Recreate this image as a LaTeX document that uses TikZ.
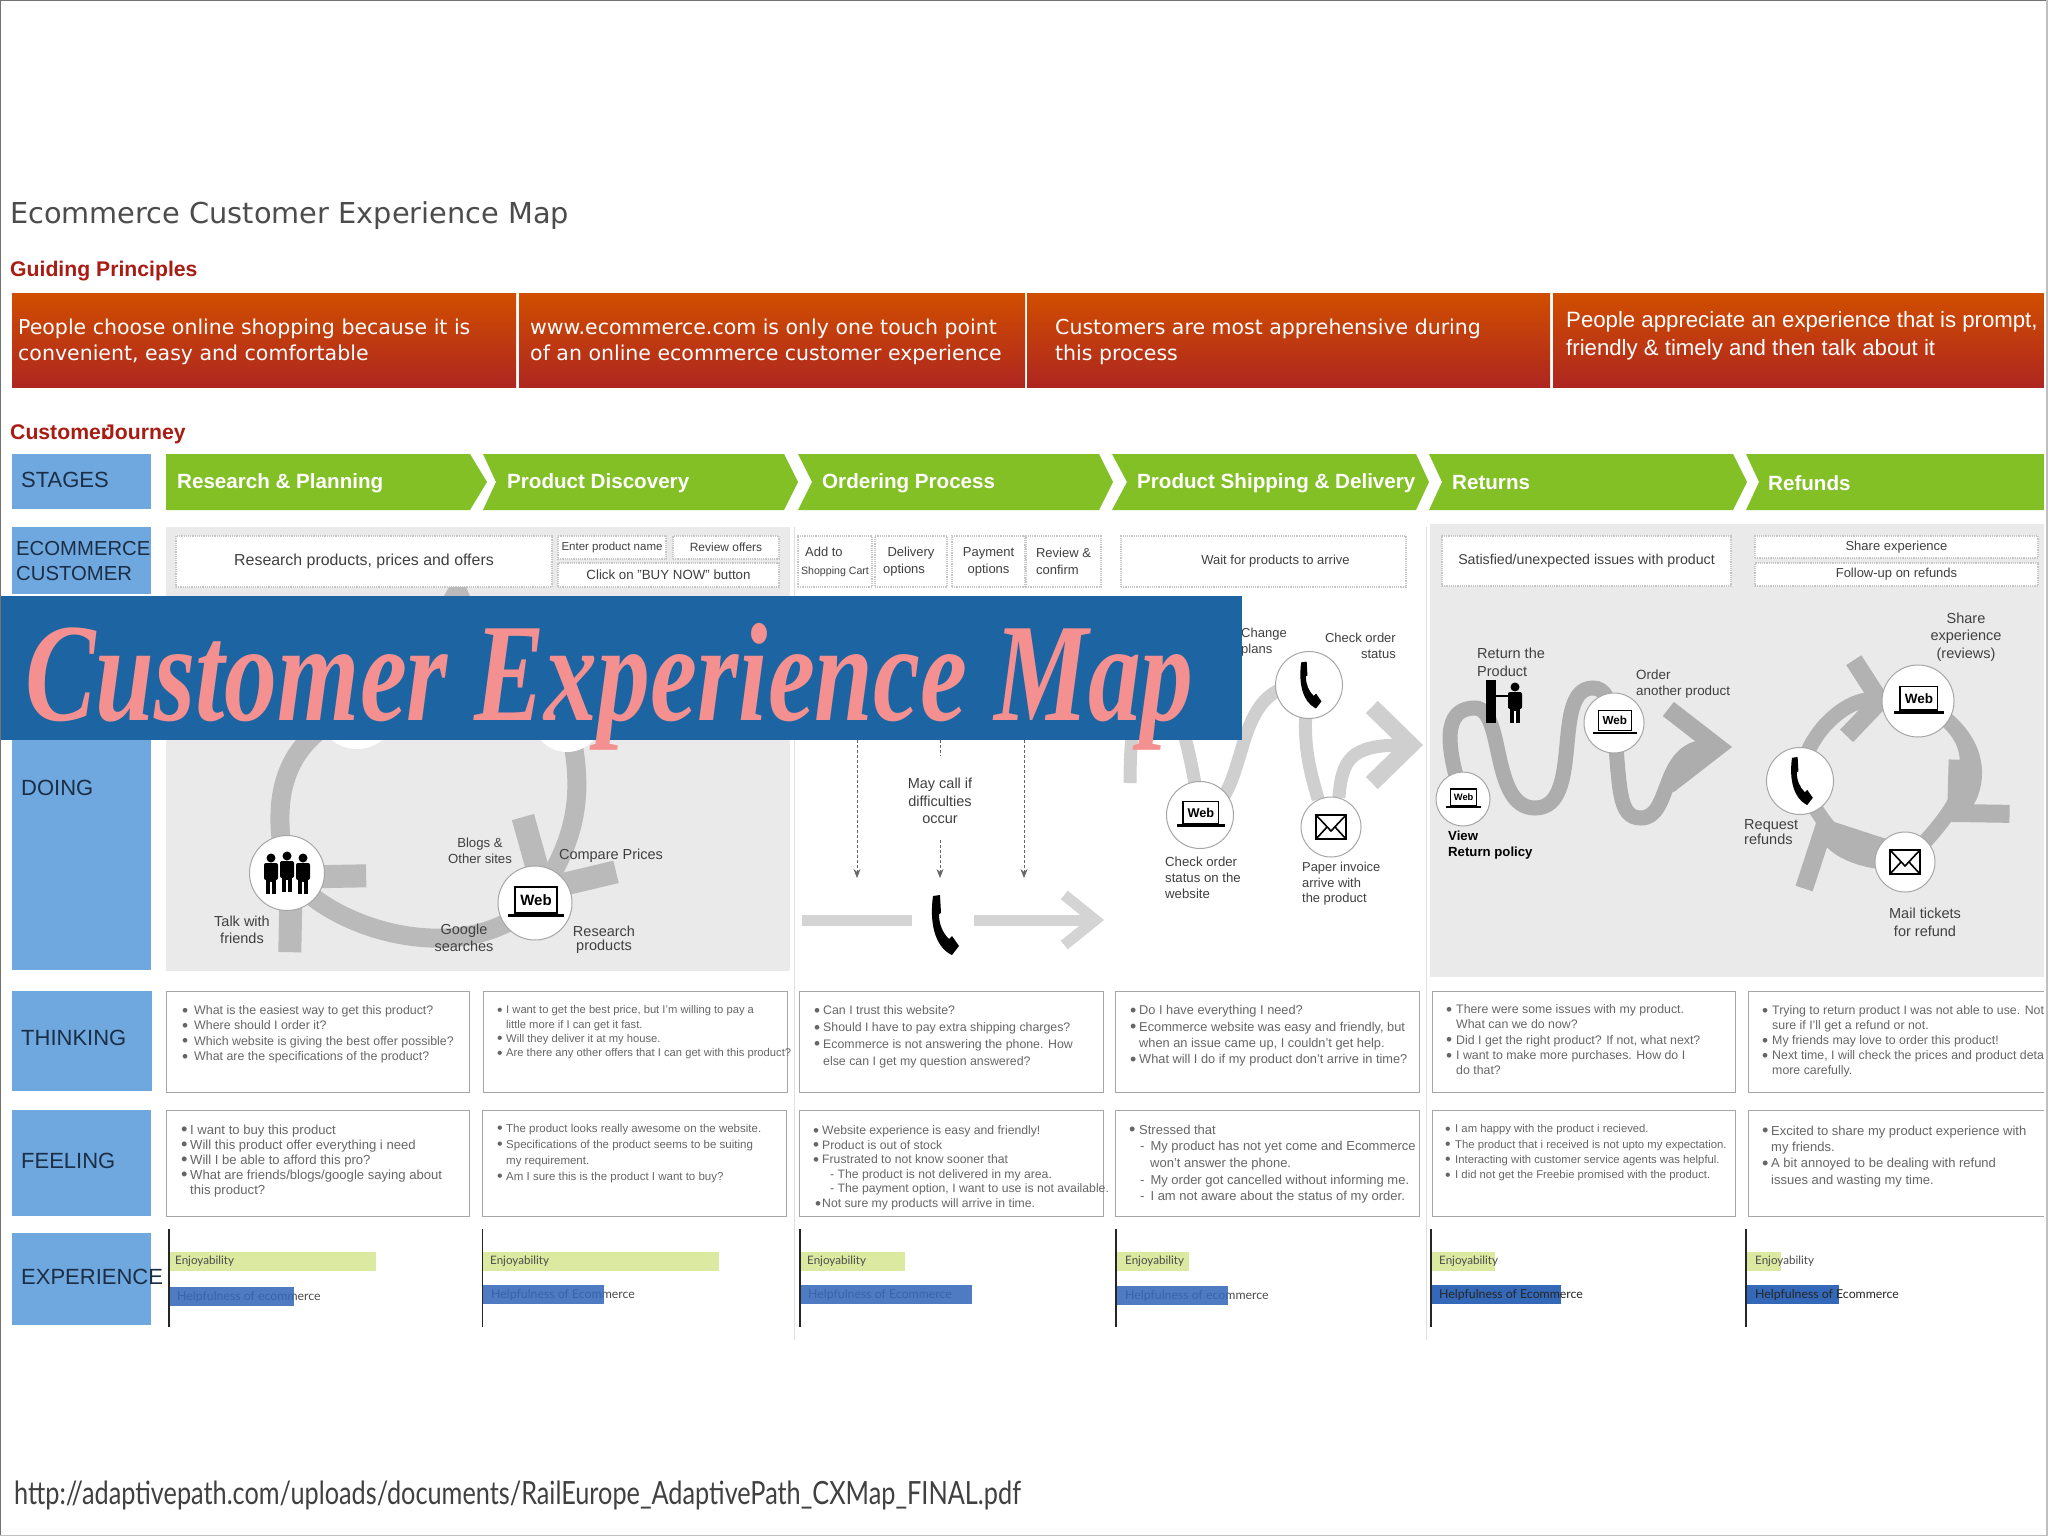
\documentclass[tikz,border=0pt]{standalone}
\usepackage{fontspec}
\setmainfont{Liberation Sans}
\newfontfamily\titlefont{DejaVu Sans}
\newfontfamily\bannerfont[FakeStretch=0.755]{Liberation Serif}
\newfontfamily\gillfont{Lato}
\newfontfamily\linkfont[FakeStretch=0.79]{Lato}
\usetikzlibrary{arrows.meta}
\pgfdeclarelayer{front}
\pgfsetlayers{main,front}
\definecolor{rowblue}{HTML}{6FA8DF}
\definecolor{rowink}{HTML}{1B2E45}
\definecolor{stagegreen}{HTML}{82C026}
\definecolor{redtop}{HTML}{D04E00}
\definecolor{redbottom}{HTML}{AE2620}
\definecolor{headred}{HTML}{A81C14}
\definecolor{panelgray}{HTML}{EAEAEA}
\definecolor{bannerblue}{HTML}{1D64A2}
\definecolor{bannerpink}{HTML}{F49090}
\definecolor{enjoygreen}{HTML}{DCE9A0}
\definecolor{helpblue}{HTML}{3468B8}
\definecolor{listgray}{HTML}{666666}
\newcommand{\bu}[1][8pt]{\makebox[#1][l]{\raisebox{-.13em}{\scalebox{1.4}{\textbullet}}}}
\newcommand{\ct}[1][8pt]{\hspace*{#1}}
\newcommand{\fs}[2]{\fontsize{#1}{#2}\selectfont}
\begin{document}
\begin{tikzpicture}[
    x=1pt, y=-1pt,
    rowbox/.style={fill=rowblue},
    rowlabel/.style={anchor=west, inner sep=0pt, text=rowink, font=\fs{22}{24}},
    principle/.style={rectangle, inner sep=0pt, top color=redtop, bottom color=redbottom, minimum height=94pt},
    principletext/.style={anchor=west, inner sep=0pt, align=left, text=white, font=\titlefont\fs{20.5}{26}},
    sectionhead/.style={anchor=west, inner sep=0pt, text=headred, font=\bfseries\fs{21.2}{23}},
    stage/.style={fill=stagegreen},
    stagelabel/.style={anchor=west, inner sep=0pt, text=white, font=\bfseries\fs{20.6}{22}},
    touchbox/.style={rectangle, draw=gray!45, densely dotted, line width=1.2pt, fill=white, inner sep=0pt, align=center, text=black!75, font=\fs{13}{17}},
    touchpoint/.style={circle, draw=gray!70, fill=white, line width=1pt, inner sep=0pt},
    plainlabel/.style={inner sep=0pt, align=center, text=black!75, font=\fs{14.5}{16.5}},
    leftlabel/.style={plainlabel, align=left, anchor=west},
    ring/.style={draw=black!27, line width=19pt},
    ringtip/.style={-{Straight Barb[length=52pt,width=108pt,line width=23pt]}},
    callflow/.style={draw=black!17, line width=11pt},
    dotarrow/.style={draw=black!60, densely dashed, line width=.8pt},
    shipflow/.style={draw=black!19, line width=13pt},
    returnflow/.style={draw=black!32, line width=15pt},
    refundflow/.style={draw=black!30, line width=15pt},
    answerbox/.style={rectangle, draw=black!35, line width=1.2pt, fill=white, inner sep=0pt},
    listtext/.style={anchor=north west, inner sep=0pt, align=left, text=listgray, font=\fs{12.4}{15.3}},
    meterlabel/.style={anchor=west, inner sep=0pt, text=black!70, font=\gillfont\fs{11.6}{13}},
    helplabel/.style={meterlabel, font=\gillfont\fs{12.3}{13}},
    meteraxis/.style={draw=black!85, line width=1.5pt},
    enjoybar/.style={fill=enjoygreen},
    helpbar/.style={fill=helpblue},
    pics/webicon/.style={code={
        \fill[white] (-21,-17) rectangle (23,11);
        \draw[line width=1.3pt] (-20,-16) rectangle (22,10);
        \fill (-27,11) rectangle (29,14);
        \node[inner sep=0pt, transform shape, font=\bfseries\fs{15}{15}] (-word) at (1,-3) {Web};
    }},
    pics/mailicon/.style={code={
        \draw[line width=2.4pt, fill=white] (-15,-12) rectangle (15,12);
        \draw[line width=1.6pt] (-15,-12) -- (0,4) -- (15,-12);
        \draw[line width=1.6pt] (-15,12) -- (-4,0);
        \draw[line width=1.6pt] (15,12) -- (4,0);
    }},
    pics/phoneicon/.style={code={
        \fill (-10,-29) -- (-3,-30) -- (-2,-12) -- (-4,-11) .. controls (-4,0) and (0,8) .. (6,14) -- (9,11) -- (16,21) -- (9,30) -- (7,29) .. controls (-7,21) and (-14,0) .. cycle;
    }},
    pics/personicon/.style={code={
        \fill (0,-16) circle (4.5pt);
        \fill[rounded corners=2pt] (-7,-11) rectangle (7,6);
        \fill (-5,5) rectangle (5,20);
        \fill[white] (-.6,8) rectangle (.6,20);
    }},
]
\useasboundingbox (0,0) rectangle (2048,1536);
\fill[white] (0,0) rectangle (2048,1536);

% Headings
\node[anchor=west, inner sep=0pt, text=black!70, font=\titlefont\fs{28.8}{31}] (maptitle) at (10,216) {Ecommerce Customer Experience Map};
\node[sectionhead] (guiding) at (10,271) {Guiding Principles};
\node[sectionhead] (journey) at (10,434) {Customer\hspace{-6pt}Journey};

% Guiding principles
\node[principle, minimum width=504pt] (goal1) at (264,340) {};
\node[principle, minimum width=506pt] (goal2) at (772,340) {};
\node[principle, minimum width=523pt] (goal3) at (1288.5,340) {};
\node[principle, minimum width=491pt] (goal4) at (1798.5,340) {};
\node[principletext] (goal1text) at (18,341.5) {People choose online shopping because it is\\convenient, easy and comfortable};
\node[principletext] (goal2text) at (530,341.5) {www.ecommerce.com is only one touch point\\of an online ecommerce customer experience};
\node[principletext] (goal3text) at (1055,341.5) {Customers are most apprehensive during\\this process};
\node[principletext, font=\fs{22.2}{28}] (goal4text) at (1566,336) {People appreciate an experience that is prompt,\\friendly \& timely and then talk about it};

% Stages
\fill[rowbox] (12,454) rectangle (151,509);
\node[rowlabel] (stagesrow) at (21,480) {STAGES};
\fill[stage] (166,454) -- (470,454) -- (487,482) -- (470,510) -- (166,510) -- cycle;
\fill[stage] (483,454) -- (784,454) -- (798,482) -- (784,510) -- (483,510) -- (496,482) -- cycle;
\fill[stage] (798,454) -- (1099,454) -- (1113,482) -- (1099,510) -- (798,510) -- (812,482) -- cycle;
\fill[stage] (1112,454) -- (1416,454) -- (1429,482) -- (1416,510) -- (1112,510) -- (1127,482) -- cycle;
\fill[stage] (1429,454) -- (1733,454) -- (1747,482) -- (1733,510) -- (1429,510) -- (1442,482) -- cycle;
\fill[stage] (1746,454) -- (2044,454) -- (2044,510) -- (1746,510) -- (1759,482) -- cycle;
\node[stagelabel] (stage1) at (177,483) {Research \& Planning};
\node[stagelabel] (stage2) at (507,483) {Product Discovery};
\node[stagelabel] (stage3) at (822,483) {Ordering Process};
\node[stagelabel] (stage4) at (1137,483) {Product Shipping \& Delivery};
\node[stagelabel] (stage5) at (1452,483) {Returns};
\node[stagelabel] (stage6) at (1768,483) {Refunds};

% Row labels and panels
\fill[rowbox] (12,527) rectangle (151,594);
\node[rowlabel, align=left, font=\fs{20.3}{25}] (customerrow) at (16,561) {ECOMMERCE\\CUSTOMER};
\fill[rowbox] (12,600) rectangle (151,970);
\node[rowlabel] (doingrow) at (21,788) {DOING};
\fill[panelgray] (166,527) rectangle (790,971);
\fill[panelgray] (1430,524) rectangle (2044,977);
\draw[black!12, line width=1pt] (794,527) -- (794,1340);
\draw[black!12, line width=1pt] (1426,527) -- (1426,1340);

% Customer touch boxes
\node[touchbox, minimum width=376pt, minimum height=51pt, font=\fs{15.9}{17}] (research) at (364,561.5) {Research products, prices and offers};
\node[touchbox, minimum width=108pt, minimum height=23pt, font=\fs{11.5}{13}] (enterbox) at (612,547.5) {Enter product name};
\node[touchbox, minimum width=106pt, minimum height=23pt, font=\fs{12}{14}] (reviewbox) at (726,547.5) {Review offers};
\node[touchbox, minimum width=221pt, minimum height=24pt, font=\fs{13.3}{15}] (buynow) at (668.5,575) {Click on "BUY NOW" button};
\node[touchbox, minimum width=74pt, minimum height=51pt, align=left] (addcart) at (835,561.5) {\hspace*{4pt}Add to\\[1pt]{\fs{10.6}{12}Shopping Cart}};
\node[touchbox, minimum width=72pt, minimum height=51pt] (delivery) at (911,561.5) {Delivery\\options\hspace*{14pt}};
\node[touchbox, minimum width=73pt, minimum height=51pt] (payment) at (988.5,561.5) {Payment\\options};
\node[touchbox, minimum width=75pt, minimum height=51pt, align=left] (confirm) at (1063.5,561.5) {Review \&\\confirm};
\node[touchbox, minimum width=285pt, minimum height=51pt, font=\fs{13}{15}] (waitbox) at (1263.5,561.5) {\hspace*{24pt}Wait for products to arrive};
\node[touchbox, minimum width=289pt, minimum height=50pt, font=\fs{14.2}{16}] (issues) at (1586.5,561) {Satisfied/unexpected issues with product};
\node[touchbox, minimum width=283pt, minimum height=22pt] (sharebox) at (1896.5,547) {Share experience};
\node[touchbox, minimum width=283pt, minimum height=23pt] (followbox) at (1896.5,574.5) {Follow-up on refunds};

% Touch points
\begin{pgfonlayer}{front}
\node[touchpoint, minimum size=80pt, draw=none] (topcircle) at (357,709) {};
\node[touchpoint, minimum size=70pt, draw=none] (blogcircle) at (567,717) {};
\node[touchpoint, minimum size=75pt] (friends) at (287,873) {};
\node[touchpoint, minimum size=74pt] (webshop) at (535,903) {};
\node[touchpoint, minimum size=67pt] (shipweb) at (1200,815) {};
\node[touchpoint, minimum size=67pt] (shipphone) at (1309,685) {};
\node[touchpoint, minimum size=60pt] (shipmail) at (1331,827) {};
\node[touchpoint, minimum size=54pt] (retview) at (1463,799) {};
\node[touchpoint, minimum size=60pt] (retweb) at (1614,723) {};
\node[touchpoint, minimum size=72pt] (refweb) at (1918,701) {};
\node[touchpoint, minimum size=67pt] (refphone) at (1800,781) {};
\node[touchpoint, minimum size=60pt] (refmail) at (1905,862) {};
\node[inner sep=0pt, minimum size=62pt, circle] (callphone) at (943,920) {};
\pic (people1) at (271,874) {personicon};
\pic (people3) at (303,874) {personicon};
\pic (people2) at (287,872) {personicon};
\pic (webicon1) at (535,903) {webicon};
\pic[scale=.85] (webicon2) at (1200,815) {webicon};
\pic[scale=.78] (phone2) at (1309,685) {phoneicon};
\pic (mail2) at (1331,827) {mailicon};
\pic[scale=.62] (webicon3) at (1463,799) {webicon};
\pic[scale=.78] (webicon4) at (1614,723) {webicon};
\pic[scale=.9] (webicon5) at (1918,701) {webicon};
\pic[scale=.8] (phone3) at (1800,781) {phoneicon};
\pic (mail3) at (1905,862) {mailicon};
\pic (phone1) at (943,925) {phoneicon};
\fill (1486,680) rectangle (1496,723);
\pic (returner) at (1515,703) {personicon};
\draw[line width=2pt] (1496,696) -- (1509,696);
\end{pgfonlayer}

% Research and discovery flow
\fill[black!27] (444,596) -- (449,587) -- (466,587) -- (470,596) -- cycle;
\draw[ring, ringtip, shorten >=-10pt] (webshop.center) .. controls (470,965) and (350,936) .. (friends.center);
\draw[ring] (friends.center) .. controls (270,800) and (280,740) .. (topcircle.center);
\draw[ring, ringtip] (blogcircle.center) .. controls (585,785) and (578,830) .. (webshop.center);
\node[plainlabel] (talklabel) at (242,930) {Talk with\\friends};
\node[plainlabel, font=\fs{13.2}{16.5}] (blogslabel) at (480,851) {Blogs \&\\Other sites};
\node[plainlabel] (comparelabel) at (611,856) {Compare Prices};
\node[plainlabel] (googlelabel) at (464,938) {Google\\searches};
\node[plainlabel, font=\fs{14.5}{14}] (productslabel) at (604,940) {Research\\products};

% Ordering flow
\coordinate (callstart) at (802,920);
\coordinate (callend) at (1104,920);
\draw[callflow] (callstart) -- (callphone);
\draw[callflow, -{Straight Barb[length=31pt,width=50pt]}] (callphone) -- (callend);
\coordinate (leftdrop) at (857,740);
\coordinate (leftend) at (857,878);
\coordinate (middrop) at (940,740);
\coordinate (midgap) at (940,756);
\coordinate (midresume) at (940,840);
\coordinate (midend) at (940,878);
\coordinate (rightdrop) at (1024,740);
\coordinate (rightend) at (1024,878);
\draw[dotarrow, -{Stealth[length=9pt,width=7pt]}] (leftdrop) -- (leftend);
\draw[dotarrow] (middrop) -- (midgap);
\draw[dotarrow, -{Stealth[length=9pt,width=7pt]}] (midresume) -- (midend);
\draw[dotarrow, -{Stealth[length=9pt,width=7pt]}] (rightdrop) -- (rightend);
\node[plainlabel, font=\fs{14.5}{17.5}] (calllabel) at (940,801) {May call if\\difficulties\\occur};

% Shipping flow
\coordinate (shipstart) at (1130,783);
\coordinate (shiptip) at (1423,745);
\draw[shipflow] (shipstart) .. controls (1130,640) and (1175,640) .. (shipweb.center);
\draw[shipflow] (shipweb.center) .. controls (1255,800) and (1225,680) .. (shipphone.center);
\draw[shipflow] (shipphone.center) .. controls (1300,740) and (1310,770) .. (shipmail.115);
\draw[shipflow, -{Straight Barb[length=39pt,width=76pt,line width=17pt]}] (shipmail.75) .. controls (1342,760) and (1350,745) .. (shiptip);
\node[leftlabel, font=\fs{13}{16.5}] (changelabel) at (1241,642) {Change\\plans};
\node[plainlabel, font=\fs{13}{16.5}, align=right, anchor=east] (statuslabel) at (1396,646) {Check order\\status};
\node[leftlabel, font=\fs{13.2}{16}] (sitelabel) at (1165,878) {Check order\\status on the\\website};
\node[leftlabel, font=\fs{12.9}{15.5}] (invoicelabel) at (1302,884) {Paper invoice\\arrive with\\the product};

% Returns flow
\coordinate (returndip) at (1535,808);
\coordinate (returntop) at (1475,708);
\coordinate (returnlow) at (1641,818);
\coordinate (rettip) at (1732,747);
\draw[returnflow] (retview.center) .. controls (1440,730) and (1450,708) .. (returntop) .. controls (1505,708) and (1490,808) .. (returndip) .. controls (1585,808) and (1550,688) .. (1593,688) .. controls (1605,688) and (1610,700) .. (retweb.center);
\draw[returnflow, -{Straight Barb[length=49pt,width=76pt,line width=18pt]}] (retweb.center) .. controls (1620,790) and (1618,818) .. (returnlow) .. controls (1672,818) and (1660,747) .. (rettip);
\node[leftlabel, font=\fs{14.5}{18}] (returnlabel) at (1477,662) {Return the\\Product};
\node[leftlabel, font=\fs{13.4}{15.5}] (orderlabel) at (1636,684) {Order\\another product};
\node[leftlabel, font=\bfseries\fs{13.2}{16}, text=black] (viewlabel) at (1448,845) {View\\Return policy};

% Refunds flow
\draw[refundflow, shorten >=-10pt, -{Straight Barb[length=30pt,width=76pt,line width=18pt]}] (refphone.center) .. controls (1805,730) and (1850,698) .. (refweb.180);
\draw[refundflow] (refweb.center) .. controls (1995,740) and (1975,795) .. (refmail.center);
\draw[refundflow, shorten >=58pt, -{Straight Barb[length=38pt,width=75pt,line width=18pt]}] (refweb.center) .. controls (1995,740) and (1975,795) .. (refmail.center);
\draw[refundflow] (refmail.center) .. controls (1865,865) and (1835,850) .. (refphone.center);
\draw[refundflow, shorten >=40pt, -{Straight Barb[length=45pt,width=90pt,line width=18pt]}] (refmail.center) .. controls (1865,865) and (1835,850) .. (refphone.center);
\node[plainlabel, font=\fs{14.5}{17.5}] (sharelabel) at (1966,637) {Share\\experience\\(reviews)};
\node[leftlabel, font=\fs{14.5}{15}] (requestlabel) at (1744,832) {Request\\refunds};
\node[plainlabel, font=\fs{14.5}{18}] (ticketlabel) at (1925,922) {Mail tickets\\for refund};

% Thinking
\fill[rowbox] (12,991) rectangle (151.5,1091);
\node[rowlabel] (thinkingrow) at (21,1038) {THINKING};
\node[answerbox, anchor=north west, minimum width=303pt, minimum height=101pt] (think1) at (166,990.5) {};
\node[answerbox, anchor=north west, minimum width=304pt, minimum height=101pt] (think2) at (483,990.5) {};
\node[answerbox, anchor=north west, minimum width=304pt, minimum height=101pt] (think3) at (799,990.5) {};
\node[answerbox, anchor=north west, minimum width=304pt, minimum height=101pt] (think4) at (1115,990.5) {};
\node[answerbox, anchor=north west, minimum width=303pt, minimum height=101pt] (think5) at (1432,990.5) {};
\node[answerbox, anchor=north west, minimum width=305pt, minimum height=101pt] (think6) at (1748,990.5) {};
\node[listtext] (think1text) at (182,1005.5) {\bu[12pt]What is the easiest way to get this product?\\\bu[12pt]Where should I order it?\\\bu[12pt]Which website is giving the best offer possible?\\\bu[12pt]What are the specifications of the product?};
\node[listtext, font=\fs{11.2}{14.3}] (think2text) at (497,1005.5) {\bu[9pt]I want to get the best price, but I'm willing to pay a\\\ct[9pt]little more if I can get it fast.\\\bu[9pt]Will they deliver it at my house.\\\bu[9pt]Are there any other offers that I can get with this product?};
\node[listtext, font=\fs{12.35}{16.8}] (think3text) at (814,1005.5) {\bu[9pt]Can I trust this website?\\\bu[9pt]Should I have to pay extra shipping charges?\\\bu[9pt]Ecommerce is not answering the phone. How\\\ct[9pt]else can I get my question answered?};
\node[listtext, font=\fs{12.8}{16.3}] (think4text) at (1130,1005.5) {\bu[9pt]Do I have everything I need?\\\bu[9pt]Ecommerce website was easy and friendly, but\\\ct[9pt]when an issue came up, I couldn't get help.\\\bu[9pt]What will I do if my product don't arrive in time?};
\node[listtext, font=\fs{12.35}{15.3}] (think5text) at (1446,1004.5) {\bu[10pt]There were some issues with my product.\\\ct[10pt]What can we do now?\\\bu[10pt]Did I get the right product? If not, what next?\\\bu[10pt]I want to make more purchases. How do I\\\ct[10pt]do that?};
\node[listtext, font=\fs{12.35}{15}] (think6text) at (1762,1005.5) {\bu[10pt]Trying to return product I was not able to use. Not\\\ct[10pt]sure if I'll get a refund or not.\\\bu[10pt]My friends may love to order this product!\\\bu[10pt]Next time, I will check the prices and product details\\\ct[10pt]more carefully.};

% Feeling
\fill[rowbox] (12,1110) rectangle (151,1216);
\node[rowlabel] (feelingrow) at (21,1161) {FEELING};
\node[answerbox, anchor=north west, minimum width=303pt, minimum height=106pt] (feel1) at (166,1110) {};
\node[answerbox, anchor=north west, minimum width=304pt, minimum height=106pt] (feel2) at (482,1110) {};
\node[answerbox, anchor=north west, minimum width=304pt, minimum height=106pt] (feel3) at (798.5,1110) {};
\node[answerbox, anchor=north west, minimum width=304pt, minimum height=106pt] (feel4) at (1115,1110) {};
\node[answerbox, anchor=north west, minimum width=303pt, minimum height=106pt] (feel5) at (1431.5,1110) {};
\node[answerbox, anchor=north west, minimum width=305pt, minimum height=106pt] (feel6) at (1747.5,1110) {};
\node[listtext, font=\fs{13.1}{15}] (feel1text) at (181,1124.5) {\bu[9pt]I want to buy this product\\\bu[9pt]Will this product offer everything i need\\\bu[9pt]Will I be able to afford this pro?\\\bu[9pt]What are friends/blogs/google saying about\\\ct[9pt]this product?};
\node[listtext, font=\fs{11.5}{16}] (feel2text) at (497,1123.5) {\bu[9pt]The product looks really awesome on the website.\\\bu[9pt]Specifications of the product seems to be suiting\\\ct[9pt]my requirement.\\\bu[9pt]Am I sure this is the product I want to buy?};
\node[listtext, font=\fs{12.2}{14.6}] (feel3text) at (813,1125.5) {\bu[9pt]Website experience is easy and friendly!\\\bu[9pt]Product is out of stock\\\bu[9pt]Frustrated to not know sooner that\\\ct[17pt]- The product is not delivered in my area.\\\ct[17pt]- The payment option, I want to use is not available.\\\ct[2pt]\bu[7pt]Not sure my products will arrive in time.};
\node[listtext, font=\fs{13}{16.7}] (feel4text) at (1129,1124.5) {\bu[10pt]Stressed that\\\ct[11pt]-\ct[6pt]My product has not yet come and Ecommerce\\\ct[21pt]won't answer the phone.\\\ct[11pt]-\ct[6pt]My order got cancelled without informing me.\\\ct[11pt]-\ct[6pt]I am not aware about the status of my order.};
\node[listtext, font=\fs{11.3}{15.3}] (feel5text) at (1445,1124.5) {\bu[10pt]I am happy with the product i recieved.\\\bu[10pt]The product that i received is not upto my expectation.\\\bu[10pt]Interacting with customer service agents was helpful.\\\bu[10pt]I did not get the Freebie promised with the product.};
\node[listtext, font=\fs{13}{16.3}] (feel6text) at (1762,1125.5) {\bu[9pt]Excited to share my product experience with\\\ct[9pt]my friends.\\\bu[9pt]A bit annoyed to be dealing with refund\\\ct[9pt]issues and wasting my time.};

% Experience
\fill[rowbox] (12,1233) rectangle (151,1325);
\node[rowlabel] (experiencerow) at (21,1277) {EXPERIENCE};
\fill[enjoybar] (169,1252) rectangle (376,1271);
\fill[enjoybar] (483,1252) rectangle (719,1271);
\fill[enjoybar] (800,1252) rectangle (905,1271);
\fill[enjoybar] (1116,1252) rectangle (1189,1271);
\fill[enjoybar] (1431,1252) rectangle (1495,1271);
\fill[enjoybar] (1746,1252) rectangle (1781,1271);
\node[meterlabel] (enjoy1) at (175,1261) {Enjoyability};
\node[meterlabel] (enjoy2) at (490,1261) {Enjoyability};
\node[meterlabel] (enjoy3) at (807,1261) {Enjoyability};
\node[meterlabel] (enjoy4) at (1125,1261) {Enjoyability};
\node[meterlabel] (enjoy5) at (1439,1261) {Enjoyability};
\node[meterlabel] (enjoy6) at (1755,1261) {Enjoyability};
\node[helplabel] (help1) at (177,1297) {Helpfulness of ecommerce};
\node[helplabel] (help2) at (491,1295) {Helpfulness of Ecommerce};
\node[helplabel] (help3) at (808,1295) {Helpfulness of Ecommerce};
\node[helplabel] (help4) at (1125,1296) {Helpfulness of ecommerce};
\fill[helpbar, opacity=.87] (169,1287) rectangle (294,1306);
\fill[helpbar, opacity=.87] (483,1285) rectangle (603.5,1304);
\fill[helpbar, opacity=.87] (800,1285) rectangle (972,1304);
\fill[helpbar, opacity=.87] (1116,1286) rectangle (1228,1305);
\fill[helpbar] (1431,1285) rectangle (1561,1304);
\fill[helpbar] (1746,1285) rectangle (1839,1304);
\node[helplabel, text=black!85] (help5) at (1439,1295) {Helpfulness of Ecommerce};
\node[helplabel, text=black!85] (help6) at (1755,1295) {Helpfulness of Ecommerce};
\draw[meteraxis] (169,1229) -- (169,1327);
\draw[meteraxis] (482.5,1229) -- (482.5,1327);
\draw[meteraxis] (800,1229) -- (800,1327);
\draw[meteraxis] (1116,1229) -- (1116,1327);
\draw[meteraxis] (1431,1229) -- (1431,1327);
\draw[meteraxis] (1746,1229) -- (1746,1327);

% Banner and source
\begin{pgfonlayer}{front}
\fill[white] (2044,0) rectangle (2048,1536);
\fill[bannerblue] (0,596) rectangle (1242,740);
\node[anchor=base west, inner sep=0pt, text=bannerpink, font=\bannerfont\bfseries\itshape\fs{140}{140}] (bannertitle) at (25,720) {Customer Experience Map};
\node[anchor=west, inner sep=0pt, text=black!75, font=\linkfont\fs{32}{34}] (sourcelink) at (14,1495.5) {http://adaptivepath.com/uploads/documents/RailEurope\_AdaptivePath\_CXMap\_FINAL.pdf};
\draw[black!55, line width=2pt] (0,0) -- (2048,0);
\draw[black!55, line width=2pt] (0,0) -- (0,1536);
\draw[black!25, line width=1.5pt] (2047,0) -- (2047,1536);
\draw[black!25, line width=1.5pt] (0,1535.5) -- (2048,1535.5);
\end{pgfonlayer}
\end{tikzpicture}
\end{document}
